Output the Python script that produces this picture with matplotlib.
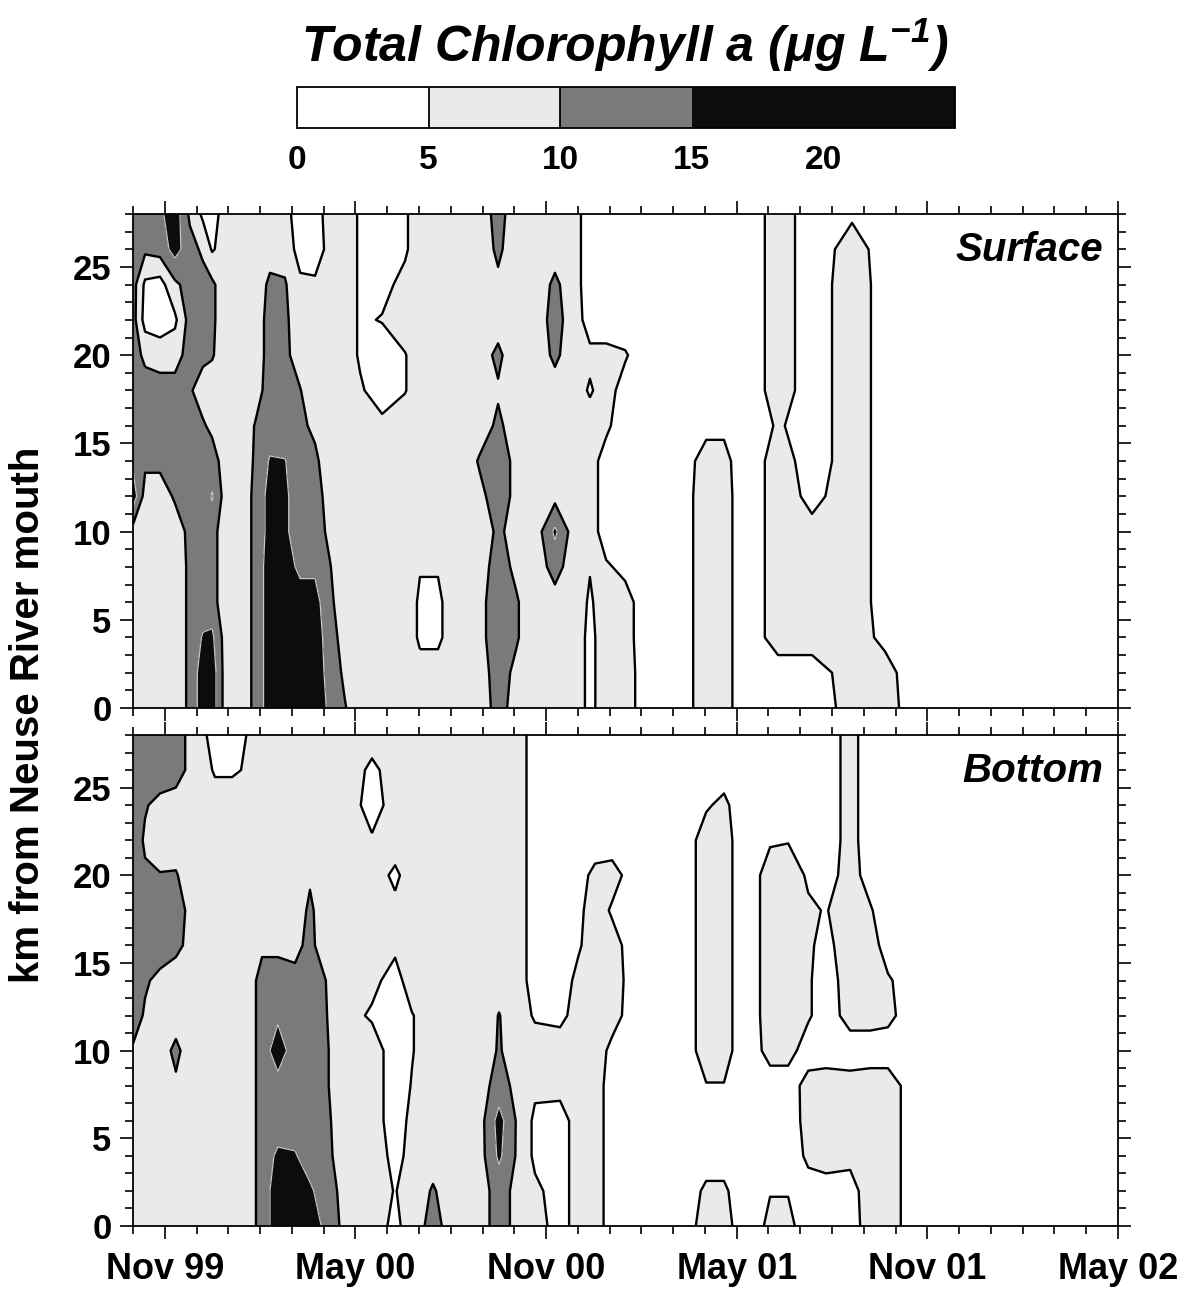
import numpy as np
import matplotlib
matplotlib.use('Agg')
import matplotlib.pyplot as plt
from matplotlib.ticker import MultipleLocator, FixedLocator

plt.rcParams['font.family'] = ['Liberation Sans', 'DejaVu Sans']
plt.rcParams['font.weight'] = 'bold'
plt.rcParams['mathtext.fontset'] = 'custom'
plt.rcParams['mathtext.rm'] = 'Liberation Sans:bold:italic'
plt.rcParams['mathtext.default'] = 'rm'

''' data '''
# distance of stations from the river mouth [km]
km_stations = [0, 2, 4, 6, 8, 10, 12, 14, 16, 18, 20, 22, 24, 26, 28]

# sampling dates, months since 1 Oct 1999
surface_months = [0, 0.38, 0.85, 1.32, 1.79, 2.20, 2.49, 2.90, 3.37, 3.84, 4.31, 4.78, 5.26, 5.73,
                  6.20, 6.67, 7.15, 7.84, 8.56, 9.03, 9.60, 10.29, 10.92, 11.49, 12.06, 12.65, 13.28,
                  13.91, 14.38, 14.89, 15.49, 16.12, 17.22, 18.04, 18.60, 19.26, 20.30, 21.37, 22.63,
                  23.67, 24.77, 31.0]

bottom_months = [0, 0.38, 0.85, 1.35, 1.79, 2.58, 3.12, 3.68, 4.06, 4.56, 5.10, 5.57, 6.04, 6.52,
                 7.08, 7.52, 8.25, 8.78, 9.44, 10.14, 10.92, 11.52, 12.12, 12.65, 13.44, 14.01, 14.54,
                 15.08, 15.80, 17.22, 18.04, 18.60, 19.26, 20.05, 20.62, 21.25, 21.81, 22.57, 23.20,
                 23.76, 24.77, 31.0]

# chlorophyll a [ug/L], one profile (km 0 -> 28) per sampling date
surface_chl = [
    [7, 7, 7, 7, 7, 8, 18, 14, 12, 12, 12, 12, 12, 12, 12],
    [7, 7, 7, 7, 7, 7, 8, 11, 12, 12, 9, 3, 4, 11, 12],
    [7, 7, 7, 7, 7, 7, 8, 11, 12, 12, 8, 2, 3, 12, 14],
    [7, 7, 7, 7, 7, 8, 10.5, 12, 12, 12, 8, 4, 9, 17, 18],
    [11, 11, 11, 11, 11, 11, 12, 12, 12, 10.5, 12, 12, 12, 12, 9],
    [18, 18, 15.5, 12, 12, 10.2, 12, 12, 10.5, 8, 11, 12, 12, 9, 4],
    [18, 18, 16, 12, 12, 12, 15.5, 12, 9, 7, 10.5, 11, 11, 4.5, 3],
    [8, 8, 8, 7, 7, 7, 8, 8, 7, 7, 7, 7, 7, 7, 7],
    [7, 7, 7, 7, 7, 7, 7, 7, 7, 7, 7, 7, 7, 7, 7],
    [11, 11, 11, 11, 11, 11, 11, 10.5, 10.2, 8, 7, 7, 7, 7, 7],
    [18, 18, 18, 18, 18, 17, 17, 15.5, 12, 12, 12, 12, 11, 8, 7],
    [18, 18, 18, 18, 17, 16, 16, 15.2, 12, 12, 11, 11, 10.5, 8, 7],
    [18, 18, 18, 17, 14, 12, 12, 12, 11, 10.2, 8, 7, 6, 3, 2],
    [18, 18, 18, 17, 14, 12, 12, 11, 9, 7, 7, 7, 6, 2, 3],
    [14, 13, 12, 11, 10.2, 9, 8, 7, 7, 7, 7, 7, 7, 7, 7],
    [10.3, 9, 8, 7, 7, 7, 7, 7, 7, 7, 7, 7, 7, 7, 7],
    [7, 7, 7, 7, 7, 7, 7, 7, 7, 5.5, 4.5, 4.5, 4.5, 4.5, 4.5],
    [7, 7, 7, 7, 7, 7, 7, 7, 6, 3, 3, 5.2, 4, 3, 3],
    [7, 7, 7, 7, 7, 7, 7, 7, 7, 4.8, 4.8, 7, 6, 4.5, 4.5],
    [7, 6, 4.5, 4.5, 5.2, 7, 7, 7, 7, 7, 7, 7, 7, 7, 7],
    [7, 6, 4.5, 4.5, 5.2, 7, 7, 7, 7, 7, 7, 7, 7, 7, 7],
    [7, 7, 7, 7, 7, 7, 7, 7, 7, 7, 7, 7, 7, 7, 7],
    [7, 8, 9, 9, 8, 7, 9, 10.5, 8, 7, 8, 7, 7, 7, 7],
    [12, 12, 12, 12, 12, 11, 12, 12, 10.8, 9.5, 11, 8, 9, 11, 12],
    [8, 9, 10.5, 10.5, 9, 8, 9, 9, 8, 7, 7, 7, 7, 7, 7],
    [7, 7, 7, 7, 7, 7, 7, 7, 7, 7, 7, 7, 7, 7, 7],
    [7, 7, 7, 8, 12, 16, 8.5, 7, 7, 8, 11, 12, 11, 8, 7],
    [7, 7, 7, 7, 7, 7, 7, 7, 7, 7, 7, 7, 7, 7, 7],
    [4, 4, 4, 4.5, 5.2, 7, 7, 7, 7, 4.5, 6, 3, 2, 2, 2],
    [7, 7, 7, 7, 5.5, 3, 3, 3, 6, 7, 6, 3, 2, 2, 2],
    [7, 7, 6.5, 6.5, 4, 2, 2, 2, 2, 3, 5.5, 2, 2, 2, 2],
    [3, 3, 3, 3, 2, 2, 2, 2, 2, 2, 2, 2, 2, 2, 2],
    [3, 3, 3, 3, 3, 3, 3, 3, 2, 2, 2, 2, 2, 2, 2],
    [7, 7, 7, 7, 7, 7, 7, 6.5, 4, 2, 2, 2, 2, 2, 2],
    [7, 7, 7, 7, 7, 7, 7, 6.5, 4, 2, 2, 2, 2, 2, 2],
    [2, 2, 2, 2, 2, 2, 2, 2, 2, 2, 2, 2, 2, 2, 2],
    [2, 3, 7, 7, 7, 7, 7, 7, 5.5, 7, 7, 7, 7, 7, 7],
    [2, 3, 7, 7, 7, 6, 4, 3, 3, 3, 3, 3, 3, 3, 3],
    [7, 7, 7, 7, 7, 7, 7, 7, 7, 7, 7, 7, 7, 6.5, 4.5],
    [7, 6.5, 4, 3.5, 3.5, 3.5, 3.5, 3.5, 3.5, 3.5, 3.5, 3.5, 3.5, 3.5, 3.5],
    [2, 2, 2, 2, 2, 2, 2, 2, 2, 2, 2, 2, 2, 2, 2],
    [2, 2, 2, 2, 2, 2, 2, 2, 2, 2, 2, 2, 2, 2, 2],
]

bottom_chl = [
    [7, 7, 7, 7, 7, 9.5, 12, 12, 12, 12, 12, 12, 12, 12, 12],
    [7, 7, 7, 7, 7, 8, 9.5, 10.5, 12, 12, 10.5, 9.5, 10.3, 12, 12],
    [7, 7, 7, 7, 7, 7, 7, 9, 12, 12, 10.3, 7, 9, 12, 12],
    [7, 7, 7, 7, 9, 11.5, 7, 8, 11, 12, 10.5, 7, 8, 12, 12],
    [7, 7, 7, 7, 7, 7, 7, 7, 9, 9, 7, 7, 7, 9, 9],
    [7, 7, 7, 7, 7, 7, 7, 7, 7, 7, 7, 7, 7, 4.5, 3],
    [7, 7, 7, 7, 7, 7, 7, 7, 7, 7, 7, 7, 7, 4.5, 3],
    [8, 8, 8, 8, 8, 8, 8, 8, 7, 7, 7, 7, 7, 5.5, 5.5],
    [12, 12, 12, 12, 12, 12, 12, 12, 9, 7, 7, 7, 7, 7, 7],
    [18, 18, 16, 12, 13, 18, 14, 12, 9, 7, 7, 7, 7, 7, 7],
    [18, 18, 15.5, 12, 12, 12, 12, 11, 9, 7, 7, 7, 7, 7, 7],
    [18, 16, 12, 12, 12, 12, 12, 12, 11, 11, 9.3, 7, 7, 7, 7],
    [14, 12, 12, 12, 11, 11, 10.5, 10.2, 8, 7, 7, 7, 7, 7, 7],
    [9.8, 9.5, 8, 7, 7, 7, 7, 7, 7, 7, 7, 7, 7, 7, 7],
    [7, 7, 7, 7, 7, 7, 5.5, 7, 7, 7, 7, 7, 5.5, 6, 7],
    [7, 7, 7, 7, 7, 7, 4.5, 6, 7, 7, 7, 5.5, 3, 4, 7],
    [4, 4.8, 4, 3, 3, 3, 3, 3.5, 5.8, 6, 4.2, 7, 7, 7, 7],
    [7, 7, 6, 6, 5.2, 4.8, 4.8, 7, 7, 7, 7, 7, 7, 7, 7],
    [12, 10.5, 8, 7, 7, 7, 7, 7, 7, 7, 7, 7, 7, 7, 7],
    [7, 7, 7, 7, 7, 7, 7, 7, 7, 7, 7, 7, 7, 7, 7],
    [8, 8, 8, 8, 8, 7, 7, 7, 7, 7, 7, 7, 7, 7, 7],
    [12, 12, 16, 17, 12, 10.5, 10.2, 8, 7, 7, 7, 7, 7, 7, 7],
    [8.5, 8.5, 9, 9, 8.5, 7, 7, 7, 7, 7, 7, 7, 7, 7, 7],
    [7, 6, 4, 4, 6, 7, 4.5, 3, 3, 3, 3, 3, 3, 3, 3],
    [3, 3, 3, 3, 6.5, 7, 4, 3, 3, 3, 3, 3, 3, 3, 3],
    [7, 7, 7, 7, 7, 7, 6.5, 6, 4.5, 4, 3.5, 3, 3, 3, 3],
    [7, 7, 7, 7, 7, 7, 7, 7, 7, 7, 6, 3, 3, 3, 3],
    [3, 3, 3, 3, 3, 4, 6.5, 7, 6.5, 4.5, 6.5, 3, 3, 3, 3],
    [3, 3, 3, 3, 3, 3, 3, 3, 3, 3, 3, 3, 3, 3, 3],
    [2, 2, 2, 2, 2, 2, 2, 2, 2, 2, 2, 2, 2, 2, 2],
    [7, 5.8, 3, 3, 4.8, 7, 7, 7, 7, 7, 7, 7, 4.5, 3, 2],
    [7, 5.8, 3, 3, 4.8, 7, 7, 7, 7, 7, 7, 7, 6, 3, 2],
    [2, 2, 2, 2, 2, 2, 2, 2, 2, 2, 2, 2, 2, 2, 2],
    [6, 4.8, 2, 2, 3, 6.5, 7, 7, 7, 7, 7, 4.5, 2, 2, 2],
    [6, 4.8, 2, 2, 3, 6.5, 7, 7, 7, 7, 7, 4.8, 2, 2, 2],
    [3, 3, 6, 7, 6.5, 3, 5.5, 5.5, 5.5, 5.5, 4.5, 2, 2, 2, 2],
    [3, 3.5, 6.5, 7, 7, 3, 3, 3, 4, 4.8, 3, 2, 2, 2, 2],
    [3, 3.5, 6, 7, 6.5, 3, 6.5, 7, 7, 7, 7, 7, 7, 7, 7],
    [7, 7, 7, 7, 7, 3, 6.5, 7, 7, 5.5, 3, 2, 2, 2, 2],
    [7, 7, 7, 7, 7, 3, 6, 5.5, 3, 2, 2, 2, 2, 2, 2],
    [2, 2, 2, 2, 2, 2, 2, 2, 2, 2, 2, 2, 2, 2, 2],
    [2, 2, 2, 2, 2, 2, 2, 2, 2, 2, 2, 2, 2, 2, 2],
]

# x axis labels (months since 1 Oct 1999)
date_ticks = [1, 7, 13, 19, 25, 31]
date_labels = ['Nov 99', 'May 00', 'Nov 00', 'May 01', 'Nov 01', 'May 02']

levels = [0, 5, 10, 15, 25]
fill_colors = ['#ffffff', '#eaeaea', '#7a7a7a', '#0c0c0c']


''' figure '''
W, H = 1184, 1292
fig = plt.figure(figsize=(W/100, H/100), dpi=100)

ax_top = fig.add_axes([133/W, 1-708/H, 985/W, 494/H])
ax_bot = fig.add_axes([133/W, 1-1226/H, 985/W, 491/H])

panels = [(ax_top, surface_months, surface_chl, 'Surface'),
          (ax_bot, bottom_months, bottom_chl, 'Bottom')]

for ax, months, chl, name in panels:
    Z = np.array(chl).T  # rows = km, columns = dates
    cs = ax.contourf(months, km_stations, Z, levels=levels, colors=fill_colors)
    ax.contour(months, km_stations, Z, levels=[5, 10], colors='k', linewidths=1.7)
    ax.contour(months, km_stations, Z, levels=[15], colors='#c8c8c8', linewidths=0.9)
    if name == 'Surface':
        cs_top = cs

    ax.set_xlim(0, 31)
    ax.set_ylim(0, 28)
    ax.xaxis.set_major_locator(FixedLocator(date_ticks))
    ax.xaxis.set_minor_locator(MultipleLocator(1))
    ax.yaxis.set_major_locator(MultipleLocator(5))
    ax.yaxis.set_minor_locator(MultipleLocator(1))
    ax.tick_params(which='both', direction='out', top=True, right=True, width=1.2)
    ax.tick_params(which='major', length=9.5, labelsize=25, pad=6)
    ax.tick_params(which='minor', length=5.5)
    ax.tick_params(axis='x', which='major', labelsize=26, pad=9)
    for sp in ax.spines.values():
        sp.set_linewidth(1.3)

    ax.text(0.985, 0.927, name, transform=ax.transAxes, ha='right', va='center',
            fontsize=29, fontweight='bold', style='italic')

ax_top.set_xticklabels([])
ax_bot.set_xticklabels(date_labels)

fig.text(28/W, 1-715/H, 'km from Neuse River mouth', rotation=90, ha='center', va='center',
         fontsize=29, fontweight='bold')

# colour key
fig.text(625/W, 1-62/H, 'Total Chlorophyll a (\u03bcg L$^{-1}$)', ha='center', va='baseline',
         fontsize=36, fontweight='bold', style='italic')

cax = fig.add_axes([297/W, 1-128/H, 658/W, 41/H])
cb = fig.colorbar(cs_top, cax=cax, orientation='horizontal', spacing='proportional',
                  ticks=[0, 5, 10, 15, 20])
cb.ax.tick_params(length=0, labelsize=24, pad=12)
cb.outline.set_linewidth(1.3)
cax.axvline(5, color='k', lw=1.3)
cax.axvline(10, color='k', lw=1.3)

fig.savefig('out.png', dpi=100)
